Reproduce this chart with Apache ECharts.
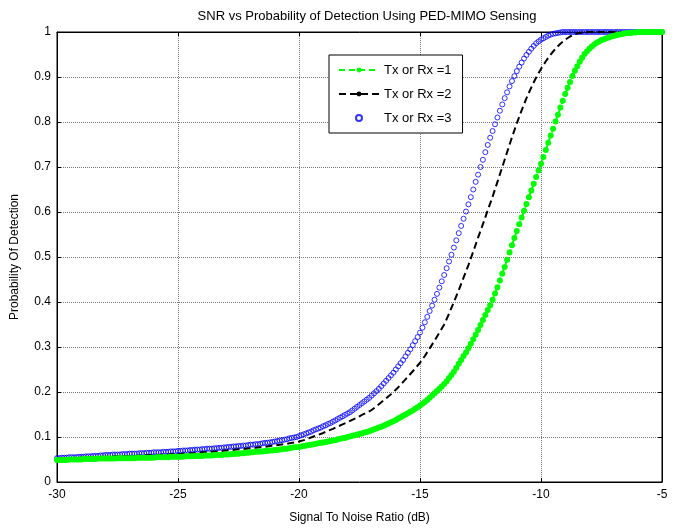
<!DOCTYPE html>
<html>
<head>
<meta charset="utf-8">
<script src="https://cdn.jsdelivr.net/npm/echarts@6/dist/echarts.min.js"></script>
<style>
html,body{margin:0;padding:0;background:#fff;}
#chart{width:679px;height:531px;}
</style>
</head>
<body>
<div id="chart"></div>
<script>
// SNR grids start at -30 dB; Rx=1 and Rx=3 sampled every 0.1 dB (251 pts), Rx=2 every 0.2 dB (126 pts)
const snrStart = -30;
const stepFine = 0.1, stepCoarse = 0.2;
const xTicks = [-30, -25, -20, -15, -10, -5];
const seriesNames = ['Tx or Rx =1', 'Tx or Rx =2', 'Tx or Rx =3'];

const pdRx1 = [
0.049,0.049,0.049,0.049,0.049,0.050,0.050,0.050,0.050,0.050,
0.050,0.051,0.051,0.051,0.051,0.051,0.051,0.052,0.052,0.052,
0.052,0.052,0.052,0.052,0.052,0.053,0.053,0.053,0.053,0.053,
0.053,0.053,0.053,0.054,0.054,0.054,0.054,0.054,0.054,0.054,
0.054,0.055,0.055,0.055,0.055,0.055,0.055,0.056,0.056,0.056,
0.056,0.056,0.056,0.057,0.057,0.057,0.057,0.058,0.058,0.058,
0.058,0.059,0.059,0.059,0.059,0.060,0.060,0.060,0.060,0.061,
0.061,0.061,0.062,0.062,0.063,0.063,0.064,0.064,0.065,0.065,
0.066,0.066,0.067,0.067,0.068,0.068,0.069,0.069,0.070,0.070,
0.071,0.071,0.072,0.073,0.074,0.074,0.075,0.076,0.077,0.077,
0.078,0.079,0.080,0.081,0.082,0.083,0.084,0.085,0.086,0.087,
0.088,0.089,0.090,0.091,0.092,0.093,0.095,0.096,0.097,0.098,
0.100,0.101,0.103,0.104,0.105,0.107,0.108,0.110,0.111,0.113,
0.115,0.117,0.119,0.121,0.123,0.125,0.128,0.130,0.133,0.135,
0.138,0.141,0.144,0.147,0.150,0.153,0.156,0.159,0.163,0.166,
0.170,0.174,0.178,0.182,0.187,0.192,0.197,0.202,0.207,0.212,
0.218,0.224,0.231,0.238,0.245,0.254,0.263,0.271,0.280,0.288,
0.297,0.307,0.317,0.327,0.338,0.349,0.360,0.371,0.382,0.393,
0.405,0.419,0.433,0.448,0.463,0.478,0.494,0.510,0.526,0.542,
0.558,0.573,0.588,0.603,0.618,0.633,0.648,0.663,0.678,0.692,
0.707,0.722,0.738,0.754,0.770,0.785,0.801,0.816,0.832,0.847,
0.862,0.876,0.889,0.902,0.914,0.924,0.934,0.943,0.951,0.957,
0.963,0.968,0.972,0.976,0.979,0.982,0.984,0.986,0.988,0.990,
0.991,0.993,0.994,0.995,0.996,0.997,0.998,0.998,0.999,0.999,
1.000,1.000,1.000,1.000,1.000,1.000,1.000,1.000,1.000,1.000,
1.000
];

const pdRx2 = [
0.052,0.052,0.053,0.053,0.054,0.054,0.054,0.055,0.055,0.056,
0.056,0.056,0.057,0.057,0.058,0.058,0.058,0.059,0.059,0.060,
0.060,0.060,0.061,0.061,0.062,0.062,0.063,0.064,0.064,0.065,
0.066,0.067,0.067,0.068,0.069,0.070,0.071,0.072,0.073,0.074,
0.075,0.076,0.077,0.078,0.080,0.081,0.083,0.084,0.086,0.088,
0.090,0.093,0.097,0.101,0.105,0.109,0.114,0.118,0.123,0.128,
0.133,0.138,0.143,0.149,0.154,0.160,0.168,0.177,0.186,0.195,
0.205,0.216,0.228,0.240,0.252,0.265,0.280,0.297,0.314,0.332,
0.350,0.374,0.400,0.426,0.454,0.482,0.512,0.543,0.573,0.604,
0.634,0.667,0.700,0.733,0.766,0.797,0.826,0.853,0.877,0.899,
0.918,0.935,0.950,0.963,0.974,0.983,0.990,0.995,0.998,0.999,
1.000,1.000,1.000,1.000,1.000,1.000,1.000,1.000,1.000,1.000,
1.000,1.000,1.000,1.000,1.000,1.000
];

const pdRx3 = [
0.053,0.053,0.054,0.054,0.054,0.055,0.055,0.055,0.055,0.056,
0.056,0.056,0.057,0.057,0.057,0.058,0.058,0.058,0.059,0.059,
0.060,0.060,0.060,0.061,0.061,0.061,0.061,0.062,0.062,0.062,
0.063,0.063,0.063,0.063,0.064,0.064,0.064,0.065,0.065,0.065,
0.066,0.066,0.066,0.066,0.067,0.067,0.067,0.068,0.068,0.068,
0.069,0.069,0.070,0.070,0.070,0.071,0.071,0.072,0.072,0.072,
0.073,0.073,0.074,0.074,0.074,0.075,0.075,0.076,0.076,0.077,
0.077,0.078,0.078,0.079,0.079,0.080,0.080,0.081,0.081,0.082,
0.083,0.083,0.084,0.084,0.085,0.086,0.087,0.087,0.088,0.089,
0.090,0.091,0.092,0.093,0.094,0.095,0.097,0.098,0.099,0.100,
0.102,0.104,0.106,0.108,0.110,0.112,0.115,0.117,0.119,0.121,
0.124,0.126,0.129,0.131,0.134,0.137,0.140,0.143,0.146,0.149,
0.152,0.155,0.159,0.163,0.167,0.171,0.175,0.179,0.183,0.187,
0.192,0.197,0.202,0.207,0.213,0.219,0.225,0.231,0.237,0.243,
0.250,0.257,0.264,0.271,0.279,0.287,0.295,0.304,0.313,0.322,
0.332,0.343,0.355,0.367,0.380,0.392,0.405,0.418,0.432,0.446,
0.460,0.475,0.490,0.505,0.521,0.537,0.553,0.569,0.585,0.601,
0.617,0.633,0.650,0.667,0.683,0.700,0.716,0.733,0.749,0.765,
0.780,0.795,0.810,0.825,0.839,0.853,0.866,0.879,0.891,0.902,
0.913,0.923,0.932,0.941,0.949,0.956,0.963,0.969,0.975,0.979,
0.983,0.986,0.989,0.992,0.994,0.996,0.997,0.998,0.999,1.000,
1.000,1.000,1.000,1.000,1.000,1.000,1.000,1.000,1.000,1.000,
1.000,1.000,1.000,1.000,1.000,1.000,1.000,1.000,1.000,1.000,
1.000,1.000,1.000,1.000,1.000,1.000,1.000,1.000,1.000,1.000,
1.000,1.000,1.000,1.000,1.000,1.000,1.000,1.000,1.000,1.000,
1.000
];

function pairs(vals, step) {
  const out = [];
  for (let i = 0; i < vals.length; i++) {
    out.push([+(snrStart + i * step).toFixed(1), vals[i]]);
  }
  return out;
}

const FONT = '"Liberation Sans", Arial, sans-serif';
const chart = echarts.init(document.getElementById('chart'), null, {renderer: 'canvas'});

const gridLine = {show: true, lineStyle: {color: '#7a7a7a', type: [1, 1], width: 1}};
const option = {
  backgroundColor: '#fff',
  animation: false,
  title: {
    text: 'SNR vs Probability of Detection Using PED-MIMO Sensing',
    left: 362, top: 5, textAlign: 'center',
    textStyle: {fontFamily: FONT, fontSize: 13, fontWeight: 'normal', color: '#000'}
  },
  grid: {left: 57, right: 17, top: 32, bottom: 49, show: true, borderColor: '#000', borderWidth: 1, backgroundColor: '#fff'},
  legend: {
    orient: 'vertical', left: 329, top: 55,
    itemWidth: 40, itemHeight: 6, itemGap: 10,
    padding: [8, 11, 8, 9],
    backgroundColor: '#fff', borderColor: '#000', borderWidth: 1,
    textStyle: {fontFamily: FONT, fontSize: 13, color: '#000', lineHeight: 14},
    data: seriesNames
  },
  xAxis: [{
    type: 'value', min: -30, max: -5, interval: 5, position: 'bottom',
    name: 'Signal To Noise Ratio (dB)', nameLocation: 'middle', nameGap: 30,
    nameTextStyle: {fontFamily: FONT, fontSize: 12, color: '#000'},
    axisLine: {show: true, onZero: false, lineStyle: {color: '#000', width: 1}},
    axisTick: {show: true, inside: true, length: 4, lineStyle: {color: '#000'}},
    axisLabel: {fontFamily: FONT, fontSize: 12, color: '#000', margin: 7},
    splitLine: gridLine
  }, {
    type: 'value', min: -30, max: -5, interval: 5, position: 'top',
    axisLine: {show: true, onZero: false, lineStyle: {color: '#000', width: 1}},
    axisTick: {show: true, inside: true, length: 4, lineStyle: {color: '#000'}},
    axisLabel: {show: false}, splitLine: {show: false}
  }],
  yAxis: [{
    type: 'value', min: 0, max: 1, interval: 0.1, position: 'left',
    name: 'Probability Of Detection', nameLocation: 'middle', nameGap: 36, nameRotate: 90,
    nameTextStyle: {fontFamily: FONT, fontSize: 12, color: '#000'},
    axisLine: {show: true, onZero: false, lineStyle: {color: '#000', width: 1}},
    axisTick: {show: true, inside: true, length: 4, lineStyle: {color: '#000'}},
    axisLabel: {fontFamily: FONT, fontSize: 12, color: '#000', margin: 6},
    splitLine: gridLine
  }, {
    type: 'value', min: 0, max: 1, interval: 0.1, position: 'right',
    axisLine: {show: true, onZero: false, lineStyle: {color: '#000', width: 1}},
    axisTick: {show: true, inside: true, length: 4, lineStyle: {color: '#000'}},
    axisLabel: {show: false}, splitLine: {show: false}
  }],
  series: [{
    name: seriesNames[0], type: 'line', data: pairs(pdRx1, stepFine),
    symbol: 'circle', symbolSize: 6, showSymbol: true,
    lineStyle: {color: '#00ff00', width: 2, type: [6, 4]},
    itemStyle: {color: '#00ff00'}
  }, {
    name: seriesNames[1], type: 'line', data: pairs(pdRx2, stepCoarse),
    symbol: 'circle', symbolSize: 5, showSymbol: false,
    lineStyle: {color: '#000', width: 2, type: [7, 4]},
    itemStyle: {color: '#000'}
  }, {
    name: seriesNames[2], type: 'scatter', data: pairs(pdRx3, stepFine),
    symbol: 'circle', symbolSize: 5,
    itemStyle: {color: 'rgba(0,0,0,0)', borderColor: '#0000ff', borderWidth: 1}
  }]
};
chart.setOption(option);
</script>
</body>
</html>
